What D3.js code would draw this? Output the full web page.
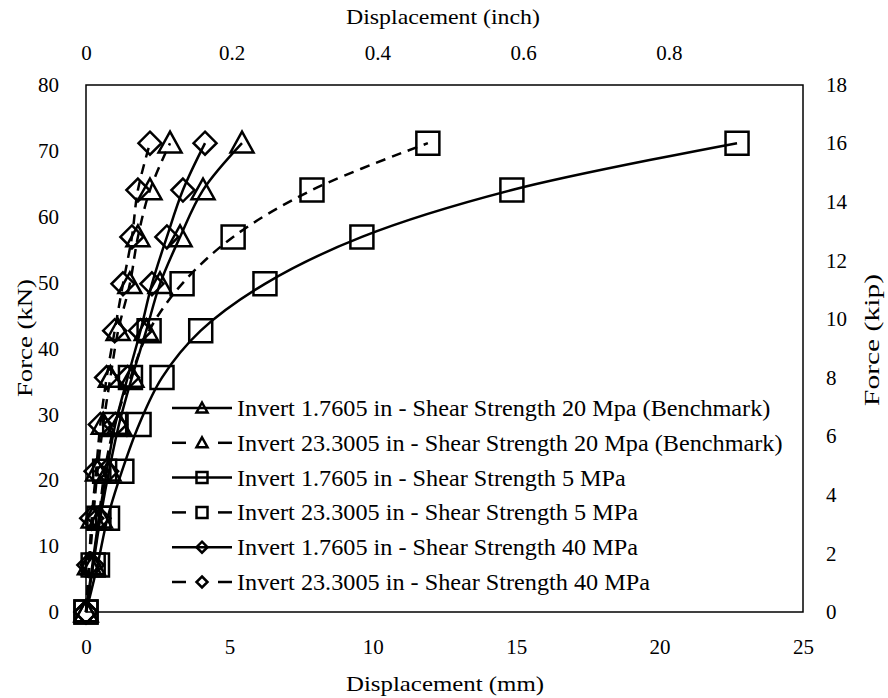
<!DOCTYPE html>
<html>
<head>
<meta charset="utf-8">
<script src="https://cdn.jsdelivr.net/npm/d3@7"></script>
<style>
  body { margin: 0; background: #fff; }
  text { font-family: "Palatino Linotype", "Book Antiqua", Palatino, "Liberation Serif", serif; fill: #000; }
</style>
</head>
<body>
<div id="chart"></div>
<script>
// force steps (kN), same for every series: 0 .. 16 kip in 1.6 kip steps
var forceKN = [0, 7.117, 14.234, 21.35, 28.467, 35.584, 42.701, 49.818, 56.934, 64.051, 71.168];

// displacement (mm)
var sh20Low  = [0, 0.25, 0.5, 0.8, 1.15, 1.6, 2.1, 2.58, 3.28, 4.08, 5.44];
var sh20High = [0, 0.12, 0.25, 0.4, 0.6, 0.85, 1.12, 1.53, 1.81, 2.23, 2.93];
var sh5Low   = [0, 0.4, 0.75, 1.25, 1.85, 2.65, 4.0, 6.24, 9.62, 14.85, 22.7];
var sh5High  = [0, 0.25, 0.45, 0.65, 1.0, 1.55, 2.2, 3.35, 5.13, 7.88, 11.92];
var sh40Low  = [0, 0.22, 0.45, 0.72, 1.02, 1.45, 1.9, 2.30, 2.82, 3.38, 4.15];
var sh40High = [0, 0.1, 0.2, 0.35, 0.5, 0.72, 1.0, 1.29, 1.60, 1.81, 2.23];

var seriesNames = [
  "Invert 1.7605 in - Shear Strength 20 Mpa (Benchmark)",
  "Invert 23.3005 in - Shear Strength 20 Mpa (Benchmark)",
  "Invert 1.7605 in - Shear Strength 5 MPa",
  "Invert 23.3005 in - Shear Strength 5 MPa",
  "Invert 1.7605 in - Shear Strength 40 MPa",
  "Invert 23.3005 in - Shear Strength 40 MPa"
];
var seriesValues = [sh20Low, sh20High, sh5Low, sh5High, sh40Low, sh40High];
var seriesMarkers = ["triangle", "triangle", "square", "square", "diamond", "diamond"];
var seriesDashed = [false, true, false, true, false, true];

var mmTicks = [0, 5, 10, 15, 20, 25];
var kNTicks = [0, 10, 20, 30, 40, 50, 60, 70, 80];
var inchTicks = [0, 0.2, 0.4, 0.6, 0.8];
var kipTicks = [0, 2, 4, 6, 8, 10, 12, 14, 16, 18];

var W = 888, H = 698;
var pLeft = 86, pRight = 803, pTop = 85, pBottom = 612;

var svg = d3.select("#chart").append("svg")
  .attr("width", W).attr("height", H);

var x = d3.scaleLinear().domain([0, 25]).range([pLeft, pRight]);
var y = d3.scaleLinear().domain([0, 80]).range([pBottom, pTop]);
var xIn = d3.scaleLinear().domain([0, 25 / 25.4]).range([pLeft, pRight]);
var yKip = d3.scaleLinear().domain([0, 80 / 4.448]).range([pBottom, pTop]);

var fs = 21;

// stretch a text a little so its width matches the reference (font is narrower than Palatino)
function fitWidth(sel, w) {
  sel.each(function () {
    var n = this.getComputedTextLength();
    if (n < w) d3.select(this).attr("textLength", w).attr("lengthAdjust", "spacingAndGlyphs");
  });
}

// frame
svg.append("rect")
  .attr("x", pLeft).attr("y", pTop)
  .attr("width", pRight - pLeft).attr("height", pBottom - pTop)
  .style("fill", "none").style("stroke", "#000").style("stroke-width", 1.5);

function styleAxis(g) {
  g.select(".domain").remove();
  g.selectAll(".tick line").remove();
  g.selectAll(".tick text")
    .style("font-size", fs + "px")
    .style("font-family", '"Palatino Linotype", "Book Antiqua", Palatino, "Liberation Serif", serif')
    .attr("fill", "#000");
}

svg.append("g").attr("transform", "translate(0," + (pBottom + 24) + ")")
  .call(d3.axisBottom(x).tickValues(mmTicks).tickSize(0).tickFormat(d3.format("d")))
  .call(styleAxis);

svg.append("g").attr("transform", "translate(" + (pLeft - 24) + ",0)")
  .call(d3.axisLeft(y).tickValues(kNTicks).tickSize(0).tickFormat(d3.format("d")))
  .call(styleAxis);

svg.append("g").attr("transform", "translate(0," + (pTop - 22) + ")")
  .call(d3.axisTop(xIn).tickValues(inchTicks).tickSize(0).tickFormat(function (d) { return d === 0 ? "0" : d3.format(".1f")(d); }))
  .call(styleAxis);

svg.append("g").attr("transform", "translate(" + (pRight + 20) + ",0)")
  .call(d3.axisRight(yKip).tickValues(kipTicks).tickSize(0).tickFormat(d3.format("d")))
  .call(styleAxis);

// axis titles
svg.append("text").attr("x", 445).attr("y", 691)
  .attr("text-anchor", "middle").style("font-size", "22px").text("Displacement (mm)")
  .call(fitWidth, 198);
svg.append("text").attr("x", 443).attr("y", 24)
  .attr("text-anchor", "middle").style("font-size", "22px").text("Displacement (inch)")
  .call(fitWidth, 194);
svg.append("text").attr("transform", "translate(32,338) rotate(-90)")
  .attr("text-anchor", "middle").style("font-size", "22px").text("Force (kN)")
  .call(fitWidth, 118);
svg.append("text").attr("transform", "translate(879,340) rotate(-90)")
  .attr("text-anchor", "middle").style("font-size", "22px").text("Force (kip)")
  .call(fitWidth, 132);

function markerPath(type, s) {
  var h = s / 2;
  if (type === "triangle") return "M0," + (-h) + "L" + h + "," + (h * 0.8) + "L" + (-h) + "," + (h * 0.8) + "Z";
  if (type === "square") return "M" + (-h) + "," + (-h) + "H" + h + "V" + h + "H" + (-h) + "Z";
  return "M0," + (-h) + "L" + h + ",0L0," + h + "L" + (-h) + ",0Z";
}

var line = d3.line()
  .x(function (d) { return x(d[0]); })
  .y(function (d) { return y(d[1]); })
  .curve(d3.curveCatmullRom.alpha(0.5));

seriesValues.forEach(function (vals, i) {
  var pts = vals.map(function (v, k) { return [v, forceKN[k]]; });
  svg.append("path").datum(pts)
    .attr("d", line)
    .style("fill", "none").style("stroke", "#000").style("stroke-width", 2.5)
    .style("stroke-dasharray", seriesDashed[i] ? "10,7" : null);

  svg.append("g").selectAll("path")
    .data(pts).enter().append("path")
    .attr("transform", function (d) { return "translate(" + x(d[0]) + "," + y(d[1]) + ")"; })
    .attr("d", markerPath(seriesMarkers[i], 23))
    .style("fill", "none").style("stroke", "#000").style("stroke-width", 2.5);
});

// legend
var legX = 172, legY = 408, legStep = 34.8;
var leg = svg.append("g");
seriesNames.forEach(function (name, i) {
  var yy = legY + i * legStep;
  if (seriesDashed[i]) {
    leg.append("line").attr("x1", legX).attr("x2", legX + 14).attr("y1", yy).attr("y2", yy)
      .style("stroke", "#000").style("stroke-width", 2.5);
    leg.append("line").attr("x1", legX + 46).attr("x2", legX + 60).attr("y1", yy).attr("y2", yy)
      .style("stroke", "#000").style("stroke-width", 2.5);
  } else {
    leg.append("line").attr("x1", legX).attr("x2", legX + 60).attr("y1", yy).attr("y2", yy)
      .style("stroke", "#000").style("stroke-width", 2.5);
  }
  leg.append("path")
    .attr("transform", "translate(" + (legX + 30) + "," + yy + ")")
    .attr("d", markerPath(seriesMarkers[i], 11))
    .style("fill", "none").style("stroke", "#000").style("stroke-width", 2.5);
  var t = leg.append("text").attr("x", legX + 65).attr("y", yy)
    .attr("dy", "0.35em").style("font-size", "23px").text(name);
  // reference widths: longest row ends near x = 782
  t.call(fitWidth, t.node().getComputedTextLength() * 1.053);
});
</script>
</body>
</html>
